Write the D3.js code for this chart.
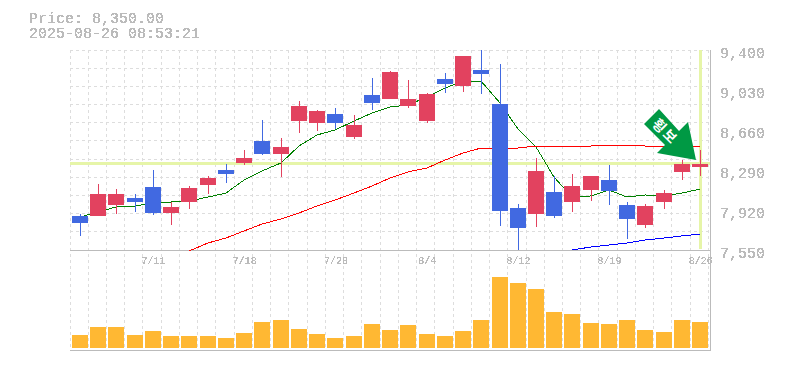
<!DOCTYPE html>
<html>
<head>
<meta charset="utf-8">
<script src="https://cdn.jsdelivr.net/npm/d3@7"></script>
<style>
  html, body { margin: 0; padding: 0; background: #fff; overflow: hidden; }
  text { font-family: 'Liberation Mono', monospace; fill: #bbb; }
</style>
</head>
<body>
<script>
const titleLines = ['Price: 8,350.00', '2025-08-26 08:53:21']
const currentPrice = 8350

const priceTicks = [9400, 9030, 8660, 8290, 7920, 7550]
const dateTicks = [[4, '7/11'], [9, '7/18'], [14, '7/28'], [19, '8/4'], [24, '8/12'], [29, '8/19'], [34, '8/26']]

const opens = [7864, 7864, 7966, 8031, 8133, 7892, 7994, 8151, 8290, 8355, 8558, 8438, 8743, 8725, 8808, 8595, 8984, 8947, 8882, 8743, 9132, 9067, 9215, 8900, 7938, 7883, 8086, 7994, 8105, 8197, 7966, 7781, 7994, 8272, 8318]
const highs = [7883, 8160, 8114, 8068, 8290, 7994, 8142, 8235, 8345, 8475, 8752, 8586, 8928, 8845, 8863, 8799, 9141, 9205, 9122, 9002, 9190, 9345, 9400, 9270, 7975, 8401, 8235, 8253, 8235, 8336, 7994, 7975, 8105, 8382, 8475]
const lows = [7680, 7864, 7883, 7901, 7874, 7781, 7929, 8068, 8170, 8336, 8429, 8225, 8632, 8651, 8669, 8577, 8845, 8947, 8863, 8725, 9002, 9011, 8993, 7772, 7550, 7763, 7846, 7901, 8003, 7966, 7652, 7754, 7929, 8197, 8235]
const closes = [7800, 8068, 8068, 7994, 7892, 7948, 8123, 8216, 8253, 8401, 8438, 8503, 8882, 8836, 8725, 8706, 8910, 9197, 8947, 8993, 9085, 9345, 9178, 7911, 7754, 8281, 7864, 8142, 8235, 8096, 7837, 7957, 8077, 8345, 8350]

const maShort = [7855, 7901, 7948, 7957, 7985, 7994, 8003, 8040, 8077, 8197, 8281, 8355, 8512, 8614, 8660, 8743, 8817, 8873, 8891, 8965, 9048, 9113, 9113, 8910, 8669, 8503, 8225, 8040, 8050, 8105, 8040, 8059, 8050, 8077, 8114]
const maMid = [null, null, null, null, null, null, 7541, 7615, 7661, 7726, 7790, 7837, 7892, 7957, 8012, 8077, 8142, 8216, 8272, 8309, 8382, 8447, 8493, 8493, 8493, 8512, 8503, 8503, 8512, 8521, 8521, 8512, 8503, 8503, 8503]
const maLong = [null, null, null, null, null, null, null, null, null, null, null, null, null, null, null, null, null, null, null, null, null, null, null, null, null, null, null, 7550, 7578, 7596, 7615, 7642, 7661, 7680, 7698]

const volumes = [13, 21, 21, 13, 17, 12, 12, 12, 10, 15, 26, 28, 19, 14, 10, 12, 24, 18, 23, 14, 12, 17, 28, 71, 65, 59, 36, 34, 25, 24, 28, 18, 16, 28, 26]

const arrowShape = [[-37, -51], [-52, -36], [-31, -15], [-39, -7], [0, 0], [-8, -38], [-17, -29]]

const width = 785
const height = 370
const gridColor = '#ddd'
const axisColor = '#bbb'
const upColor = '#e2425f'
const downColor = '#4169e1'
const hiliteColor = '#e6f5a8'

const svg = d3.select('body').append('svg')
  .attr('width', width)
  .attr('height', height)
  .style('display', 'block')

// hard edged text, the source image has no smoothing on its labels
const sharp = svg.append('defs').append('filter')
  .attr('id', 'sharp')
  .attr('filterUnits', 'userSpaceOnUse')
  .attr('x', 0).attr('y', 0)
  .attr('width', width).attr('height', height)
sharp.append('feComponentTransfer')
  .append('feFuncA')
  .attr('type', 'discrete')
  .attr('tableValues', '0 1 1')

const x = d3.scaleBand().domain(d3.range(opens.length)).range([70, 708.4])
const y = d3.scaleLinear().domain([7550, 9400]).range([250, 50])
const yVol = d3.scaleLinear().domain([0, 71]).range([348, 277])
const left = (i) => Math.round(x(i) + 2)
const mid = (i) => left(i) + 8

// grid
const crisp = (sel) => sel.attr('shape-rendering', 'crispEdges')
svg.append('g').selectAll('line')
  .data(d3.range(opens.length + 1))
  .enter().append('line')
  .attr('x1', (i) => Math.floor(70 + x.step() * i) + 0.5)
  .attr('x2', (i) => Math.floor(70 + x.step() * i) + 0.5)
  .attr('y1', 50)
  .attr('y2', 350)
  .attr('stroke', gridColor)
  .attr('stroke-dasharray', '3,3')
  .call(crisp)
svg.append('g').selectAll('line')
  .data(d3.range(11))
  .enter().append('line')
  .attr('x1', 70)
  .attr('x2', 710)
  .attr('y1', (i) => Math.floor(50 + i * 200 / 11) + 0.5)
  .attr('y2', (i) => Math.floor(50 + i * 200 / 11) + 0.5)
  .attr('stroke', gridColor)
  .attr('stroke-dasharray', '3,3')
  .call(crisp)

// current price and last candle markers
svg.append('line')
  .attr('x1', 70).attr('x2', 710)
  .attr('y1', y(currentPrice)).attr('y2', y(currentPrice))
  .attr('stroke', hiliteColor).attr('stroke-width', 3)
  .call(crisp)
svg.append('line')
  .attr('x1', mid(34) + 0.5).attr('x2', mid(34) + 0.5)
  .attr('y1', 50).attr('y2', 249)
  .attr('stroke', hiliteColor).attr('stroke-width', 3)
  .call(crisp)

// axes frame
svg.append('path')
  .attr('d', 'M70,250.5H710.5M70,350.5H710.5M710.5,50V351')
  .attr('fill', 'none')
  .attr('stroke', axisColor)
  .call(crisp)

// moving averages sit under the candles
const maLine = d3.line()
  .defined((d) => d !== null)
  .x((d, i) => mid(i))
  .y((d) => y(d))
const maSeries = [[maShort, '#008000', 1], [maMid, '#ff0000', 1], [maLong, '#0000ff', 1]]
svg.append('g').selectAll('path')
  .data(maSeries)
  .enter().append('path')
  .attr('d', (d) => maLine(d[0]))
  .attr('fill', 'none')
  .attr('stroke', (d) => d[1])
  .attr('stroke-width', (d) => d[2])
  .call(crisp)

// candles
const candle = svg.append('g').selectAll('g')
  .data(d3.range(opens.length))
  .enter().append('g')
  .attr('fill', (i) => closes[i] >= opens[i] ? upColor : downColor)
candle.append('rect')
  .attr('x', mid)
  .attr('width', 1)
  .attr('y', (i) => Math.round(y(highs[i])))
  .attr('height', (i) => Math.round(y(lows[i])) - Math.round(y(highs[i])))
  .call(crisp)
candle.append('rect')
  .attr('x', left)
  .attr('width', 16)
  .attr('y', (i) => Math.round(y(Math.max(opens[i], closes[i]))))
  .attr('height', (i) => Math.round(y(Math.min(opens[i], closes[i]))) - Math.round(y(Math.max(opens[i], closes[i]))))
  .call(crisp)

// volume
svg.append('g').selectAll('rect')
  .data(volumes)
  .enter().append('rect')
  .attr('x', (d, i) => left(i))
  .attr('width', 16)
  .attr('y', (d) => yVol(d))
  .attr('height', (d) => yVol(0) - yVol(d))
  .attr('fill', '#ffb833')
  .call(crisp)

// arrow pointing at the last candle
const arrow = svg.append('g')
  .attr('transform', `translate(${mid(34) - 4},${Math.round(y(currentPrice)) - 4})`)
arrow.append('polygon')
  .attr('points', arrowShape.join(' '))
  .attr('fill', '#009944')
arrow.append('text')
  .attr('transform', 'translate(-30,-29) rotate(45)')
  .attr('text-anchor', 'middle')
  .attr('dominant-baseline', 'central')
  .style('font-family', "'Noto Sans CJK KR'")
  .style('font-weight', 700)
  .style('font-size', '14px')
  .style('letter-spacing', '2px')
  .style('fill', '#fff')
  .text('횡보')

// axes
const priceAxis = d3.axisRight(y)
  .tickValues(priceTicks)
  .tickFormat(d3.format(','))
  .tickSize(0)
  .tickPadding(10)
svg.append('g')
  .attr('transform', 'translate(710,0)')
  .attr('filter', 'url(#sharp)')
  .call(priceAxis)
  .call((g) => g.select('.domain').remove())
  .call((g) => g.selectAll('text')
    .attr('dy', 7)
    .style('font-family', "'Liberation Mono', monospace")
    .style('font-size', '15px')
    .style('fill', '#bbb'))

const dateAxis = d3.axisBottom(x)
  .tickValues(dateTicks.map((d) => d[0]))
  .tickFormat((i) => dateTicks.find((d) => d[0] === i)[1])
  .tickSize(0)
  .tickPadding(7)
svg.append('g')
  .attr('transform', 'translate(1.5,250)')
  .attr('filter', 'url(#sharp)')
  .call(dateAxis)
  .call((g) => g.select('.domain').remove())
  .call((g) => g.selectAll('text')
    .style('font-family', "'Liberation Mono', monospace")
    .style('font-size', '10px')
    .style('fill', '#bbb'))

// title
svg.append('g')
  .attr('filter', 'url(#sharp)')
  .selectAll('text')
  .data(titleLines)
  .enter().append('text')
  .attr('x', 29)
  .attr('y', (d, i) => 23 + i * 15)
  .style('font-size', '15px')
  .text((d) => d)
</script>
</body>
</html>
